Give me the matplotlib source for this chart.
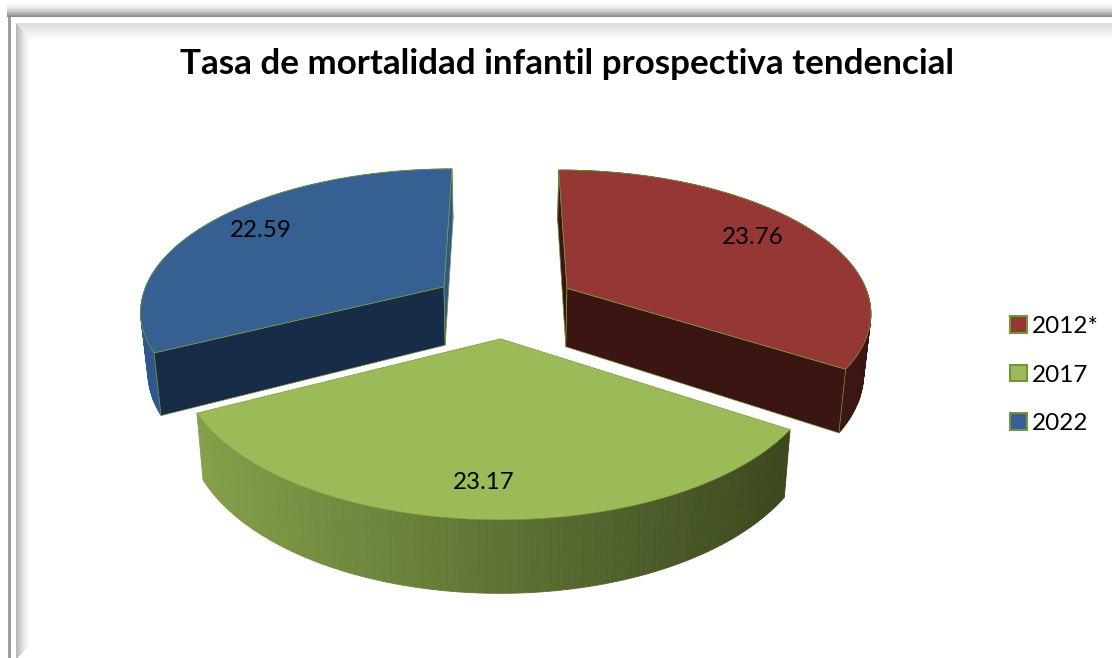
import numpy as np
import matplotlib
matplotlib.use("Agg")
import matplotlib.pyplot as plt
from matplotlib.colors import to_rgb
from matplotlib.patches import Patch

years = ["2012*", "2017", "2022"]
values = [23.76, 23.17, 22.59]
title = "Tasa de mortalidad infantil prospectiva tendencial"

top_colors = ["#953735", "#9bbb59", "#366092"]
wall_left = ["#3a1512", "#84a04b", "#2f578a"]
wall_right = ["#3a1512", "#3b481e", "#2f578a"]
start_wall = ["#3a1512", None, "#182b47"]
end_wall = ["#3a1512", None, "#2f578a"]
edge_color = "#7a9a3c"

# projection settings, pixels
CX, CY = 504.5, 304
SX, SY = 304, 141
DEPTH = 59.5
PERSP = 0.1545
BOTTOM_SHRINK = 0.98
EXPLODE = 0.238
LABEL_R = [0.76, 0.84, 0.78]


def project(x, y, z=0.0):
    s = 1 / (1 + PERSP * y)
    shrink = 1 - (1 - BOTTOM_SHRINK) * z
    return CX + SX * x * s * shrink, CY - SY * y * s + DEPTH * z * s


def make_background():
    h, w = 658, 1112
    yy, xx = np.mgrid[0:h, 0:w] + 0.5
    bg = np.ones((h, w))
    # outer shadow along the top
    band = (yy < 17.5) & (xx > 7)
    bg[band] = 1 - 0.48 * np.clip((yy[band] - 3) / 14, 0, 1) ** 1.5
    # dark line on the left
    bg[(xx > 7.5) & (xx < 11.5) & (yy > 17)] = 0.62
    # inner bevel
    d_left = xx - 16
    d_top = yy - 23
    d_bottom = 660 - yy
    left = (d_left >= 0) & (d_left < 15) & (d_left < d_top) & (d_left < d_bottom)
    bg[left] = 1 - 0.30 * (1 - d_left[left] / 15) ** 1.5
    top = (d_top >= 0) & (d_top < 17) & (d_top <= d_left)
    bg[top] = 1 - 0.14 * (1 - d_top[top] / 17)
    return np.dstack([bg, bg, bg])


def draw_slice(ax, start, end, i):
    mid = np.radians((start + end) / 2)
    ox, oy = EXPLODE * np.sin(mid), EXPLODE * np.cos(mid)
    ang = np.radians(np.linspace(start, end, 120))
    ax_x = ox + np.sin(ang)
    ax_y = oy + np.cos(ang)

    # outer wall
    xt, yt = project(ax_x, ax_y, 0)
    xb, yb = project(ax_x, ax_y, 1)
    c0, c1 = np.array(to_rgb(wall_left[i])), np.array(to_rgb(wall_right[i]))
    x_lo, x_hi = xt.min(), xt.max()
    for k in range(len(ang) - 1):
        t = ((xt[k] + xt[k + 1]) / 2 - x_lo) / (x_hi - x_lo)
        col = c0 + (c1 - c0) * t
        ax.fill([xt[k], xt[k + 1], xb[k + 1], xb[k]],
                [yt[k], yt[k + 1], yb[k + 1], yb[k]],
                facecolor=col, edgecolor=col, linewidth=0.6, zorder=i_z[i])

    # the two cut faces
    ax0, ay0 = project(ox, oy, 0)
    bx0, by0 = project(ox, oy, 1)
    for idx, col in ((0, start_wall[i]), (-1, end_wall[i])):
        if col is None:
            continue
        ax.fill([ax0, xt[idx], xb[idx], bx0], [ay0, yt[idx], yb[idx], by0],
                facecolor=col, edgecolor=edge_color, linewidth=0.5, zorder=i_z[i] + 0.1)

    # top face
    ax.fill(np.r_[ax0, xt], np.r_[ay0, yt], facecolor=top_colors[i],
            edgecolor=edge_color, linewidth=0.5, zorder=i_z[i] + 0.2)

    lx, ly = project(ox + LABEL_R[i] * np.sin(mid), oy + LABEL_R[i] * np.cos(mid))
    ax.text(lx, ly - 4, "{:.2f}".format(values[i]), fontsize=17.4, ha="center",
            va="center", color="black", zorder=10)


# blue and red sit behind green
i_z = {2: 2, 0: 3, 1: 4}

plt.rcParams["font.family"] = ["Lato", "DejaVu Sans"]
fig = plt.figure(figsize=(11.12, 6.58), dpi=100)
ax = fig.add_axes([0, 0, 1, 1])
ax.imshow(make_background(), extent=(0, 1112, 658, 0), interpolation="bilinear",
          vmin=0, vmax=1, zorder=0)
ax.set_xlim(0, 1112)
ax.set_ylim(658, 0)
ax.axis("off")

cum = np.cumsum([0] + values)
angles = cum / cum[-1] * 360
for i in range(len(values)):
    draw_slice(ax, angles[i], angles[i + 1], i)

ax.text(567.5, 64, title, fontsize=25.2, fontweight="bold", ha="center", va="center")

handles = [Patch(facecolor=c, edgecolor="#76923c", linewidth=1.5, label=y)
           for c, y in zip(top_colors, years)]
ax.legend(handles=handles, loc="center left", bbox_to_anchor=(1010, 375),
          bbox_transform=ax.transData, frameon=False, fontsize=17.5,
          handlelength=0.68, handleheight=0.68, handletextpad=0.22,
          labelspacing=1.12, borderpad=0, borderaxespad=0)

fig.savefig("out.png", dpi=100)
